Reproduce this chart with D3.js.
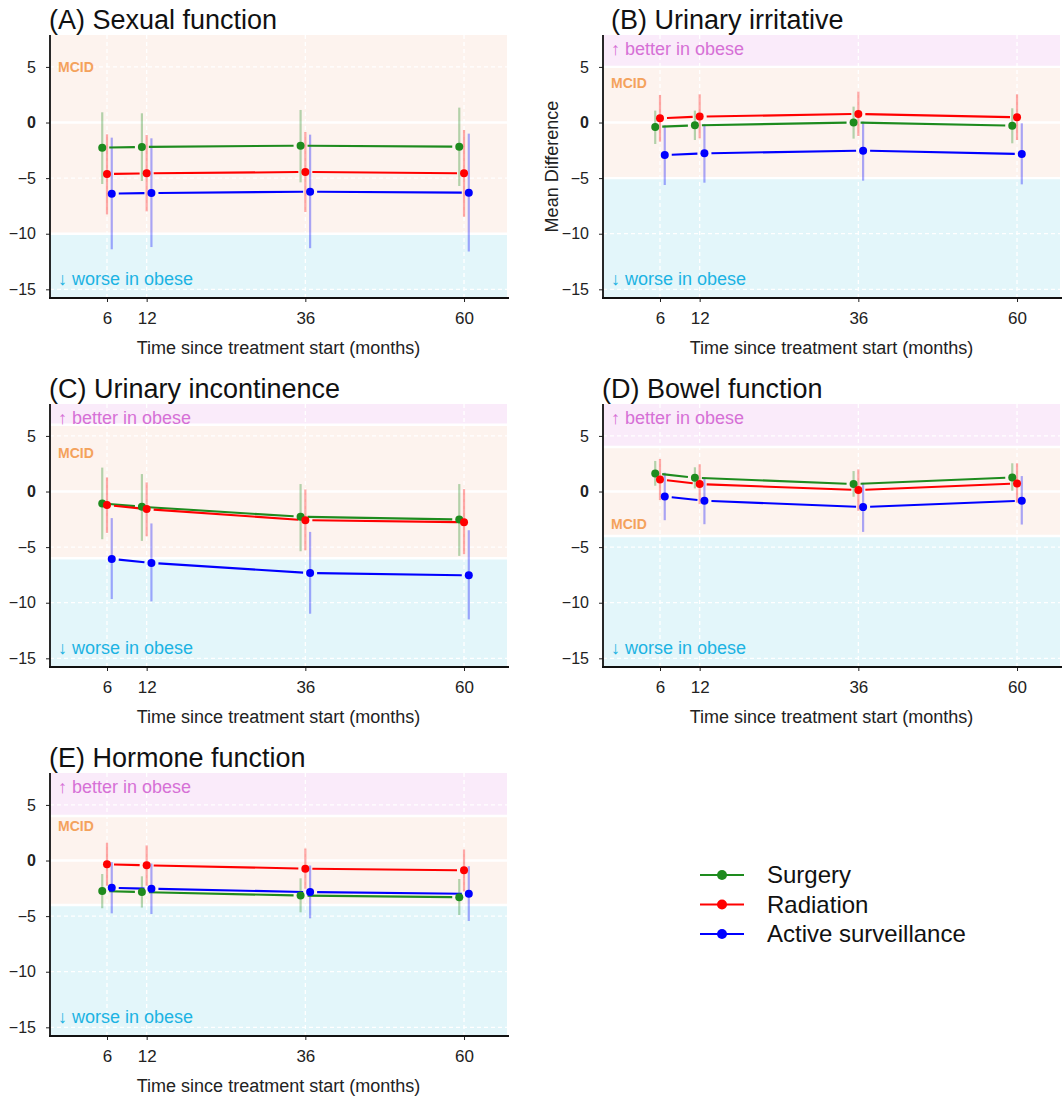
<!DOCTYPE html>
<html>
<head>
<meta charset="utf-8">
<script src="https://cdn.jsdelivr.net/npm/d3@7"></script>
<style>
  body { margin: 0; background: #fff; }
  svg { display: block; }
  text { font-family: "Liberation Sans", Arial, sans-serif; }
</style>
</head>
<body>
<svg id="chart" width="1062" height="1097"></svg>
<script>
// ---- data ----
const months = [6, 12, 36, 60];
const groups = ["Surgery", "Radiation", "Active surveillance"];
const yTicks = [5, 0, -5, -10, -15];
const titles = ["(A) Sexual function", "(B) Urinary irritative", "(C) Urinary incontinence",
                "(D) Bowel function", "(E) Hormone function"];
const mcid = [10, 5, 6, 4, 4];
const mcidLabelAt = [5, 3.55, 3.5, -2.9, 3.1];

// rows: Surgery, Radiation, Active surveillance; columns: months
const sexMean = [[-2.26, -2.20, -2.08, -2.17], [-4.63, -4.57, -4.45, -4.57], [-6.40, -6.34, -6.22, -6.31]];
const sexLow  = [[-5.53, -5.26, -5.38, -5.71], [-8.26, -7.99, -8.05, -8.47], [-11.4, -11.2, -11.3, -11.6]];
const sexHigh = [[0.92, 0.83, 1.13, 1.34], [-1.06, -1.12, -0.85, -0.67], [-1.36, -1.42, -1.09, -1.00]];

const irrMean = [[-0.40, -0.25, 0.00, -0.28], [0.38, 0.53, 0.77, 0.47], [-2.92, -2.77, -2.53, -2.83]];
const irrLow  = [[-1.93, -1.57, -1.45, -1.87], [-1.72, -1.42, -1.21, -1.57], [-5.62, -5.41, -5.23, -5.56]];
const irrHigh = [[1.07, 1.07, 1.43, 1.28], [2.48, 2.54, 2.78, 2.54], [-0.25, -0.13, 0.08, -0.07]];

const incMean = [[-1.07, -1.37, -2.27, -2.52], [-1.22, -1.58, -2.58, -2.76], [-6.06, -6.42, -7.33, -7.54]];
const incLow  = [[-4.29, -4.44, -5.37, -5.79], [-3.72, -4.02, -5.28, -5.64], [-9.67, -9.88, -10.99, -11.5]];
const incHigh = [[2.15, 1.57, 0.67, 0.67], [1.27, 0.82, 0.19, 0.22], [-2.39, -2.87, -3.63, -3.48]];

const bowMean = [[1.63, 1.24, 0.67, 1.27], [1.09, 0.67, 0.13, 0.73], [-0.44, -0.83, -1.40, -0.83]];
const bowLow  = [[0.52, 0.28, -0.47, 0.07], [-0.77, -1.13, -1.73, -1.01], [-2.58, -2.94, -3.63, -2.97]];
const bowHigh = [[2.75, 2.18, 1.84, 2.54], [2.93, 2.45, 1.99, 2.54], [1.69, 1.24, 0.79, 1.39]];

const horMean = [[-2.75, -2.84, -3.15, -3.30], [-0.34, -0.43, -0.73, -0.88], [-2.45, -2.54, -2.84, -2.99]];
const horLow  = [[-4.29, -4.23, -4.66, -4.90], [-2.27, -2.27, -2.54, -2.78], [-4.75, -4.81, -5.20, -5.44]];
const horHigh = [[-1.21, -1.42, -1.60, -1.66], [1.60, 1.36, 1.08, 0.99], [-0.15, -0.27, -0.45, -0.51]];

const means = [sexMean, irrMean, incMean, bowMean, horMean];
const lows = [sexLow, irrLow, incLow, bowLow, horLow];
const highs = [sexHigh, irrHigh, incHigh, bowHigh, horHigh];

// ---- layout ----
const colors = ["#1e8b1e", "#ff0000", "#0000ff"];
const dodge = [-0.72, 0, 0.72];
const pw = 457, ph = 263;
const origins = [[50, 35], [603, 35], [50, 404], [603, 404], [50, 773]];

const svg = d3.select("#chart");
svg.append("rect").attr("width", 1062).attr("height", 1097).attr("fill", "#fff");

const x = d3.scaleLinear().domain([-2.62, 66.5]).range([0, pw]);
const y = d3.scaleLinear().domain([-15.78, 7.87]).range([ph, 0]);

svg.append("defs").append("clipPath").attr("id", "plotclip")
    .append("rect").attr("width", pw).attr("height", ph);

origins.forEach(([ox, oy], p) => {
    let g = svg.append("g").attr("transform", `translate(${ox},${oy})`);
    let inner = g.append("g").attr("clip-path", "url(#plotclip)");
    let m = mcid[p];

    //bands: better / MCID / worse
    inner.append("rect")
        .attr("x", 0).attr("width", pw)
        .attr("y", 0).attr("height", Math.max(0, y(m)))
        .attr("fill", "#faebfa");
    inner.append("rect")
        .attr("x", 0).attr("width", pw)
        .attr("y", Math.max(0, y(m))).attr("height", y(-m) - Math.max(0, y(m)))
        .attr("fill", "#fdf3ee");
    inner.append("rect")
        .attr("x", 0).attr("width", pw)
        .attr("y", y(-m)).attr("height", ph - y(-m))
        .attr("fill", "#e3f6fa");

    //dashed grid
    inner.selectAll(".hg").data(yTicks.filter(d => d !== 0)).enter()
        .append("line")
        .attr("x1", 0).attr("x2", pw)
        .attr("y1", d => y(d)).attr("y2", d => y(d))
        .attr("stroke", "#fff").attr("stroke-width", 1.3)
        .attr("stroke-dasharray", "4,3");
    inner.selectAll(".vg").data(months).enter()
        .append("line")
        .attr("x1", d => x(d)).attr("x2", d => x(d))
        .attr("y1", 0).attr("y2", ph)
        .attr("stroke", "#fff").attr("stroke-width", 1.3)
        .attr("stroke-dasharray", "4,3");
    //solid white lines at 0 and band edges
    inner.selectAll(".wl").data([0, m, -m]).enter()
        .append("line")
        .attr("x1", 0).attr("x2", pw)
        .attr("y1", d => y(d)).attr("y2", d => y(d))
        .attr("stroke", "#fff").attr("stroke-width", 2.4);

    //band labels
    if (y(m) > 0) {
        g.append("text")
            .attr("x", 8).attr("y", 19.5)
            .attr("font-size", "18px").attr("fill", "#d670d6")
            .text("\u2191 better in obese");
    }
    g.append("text")
        .attr("x", 8).attr("y", ph - 13.5)
        .attr("font-size", "18px").attr("fill", "#1cb3e3")
        .text("\u2193 worse in obese");
    g.append("text")
        .attr("x", 8).attr("y", y(mcidLabelAt[p]))
        .attr("dy", "0.36em")
        .attr("font-size", "14px").attr("font-weight", "bold").attr("fill", "#f4a25c")
        .text("MCID");

    //error bars
    groups.forEach((grp, k) => {
        inner.selectAll(".eb" + k).data(months).enter()
            .append("line")
            .attr("x1", d => x(d + dodge[k])).attr("x2", d => x(d + dodge[k]))
            .attr("y1", (d, i) => y(lows[p][k][i])).attr("y2", (d, i) => y(highs[p][k][i]))
            .attr("stroke", colors[k]).attr("stroke-opacity", 0.33)
            .attr("stroke-width", 2.2);
    });

    //lines with small gaps around points
    groups.forEach((grp, k) => {
        let pts = months.map((d, i) => [x(d + dodge[k]), y(means[p][k][i])]);
        let segs = d3.pairs(pts).map(([a, b]) => {
            let dx = b[0] - a[0], dy = b[1] - a[1];
            let len = Math.hypot(dx, dy), gap = 7;
            return [a[0] + dx / len * gap, a[1] + dy / len * gap,
                    b[0] - dx / len * gap, b[1] - dy / len * gap];
        });
        inner.selectAll(".ln" + k).data(segs).enter()
            .append("line")
            .attr("x1", d => d[0]).attr("y1", d => d[1])
            .attr("x2", d => d[2]).attr("y2", d => d[3])
            .attr("stroke", colors[k]).attr("stroke-width", 2.1);
    });

    //points
    groups.forEach((grp, k) => {
        inner.selectAll(".pt" + k).data(months).enter()
            .append("circle")
            .attr("cx", d => x(d + dodge[k]))
            .attr("cy", (d, i) => y(means[p][k][i]))
            .attr("r", 4)
            .attr("fill", colors[k]);
    });

    //axes
    let yAxis = d3.axisLeft(y).tickValues(yTicks).tickSize(4).tickPadding(10);
    let ya = g.append("g").call(yAxis);
    ya.select(".domain").remove();
    ya.selectAll("text").attr("font-size", "16px").attr("fill", "#222")
        .attr("font-weight", d => d === 0 ? "bold" : "normal");
    ya.selectAll("line").attr("stroke", "#222");

    let xAxis = d3.axisBottom(x).tickValues(months).tickSize(4).tickPadding(10);
    let xa = g.append("g").attr("transform", `translate(0,${ph})`).call(xAxis);
    xa.select(".domain").remove();
    xa.selectAll("text").attr("font-size", "17px").attr("fill", "#222");
    xa.selectAll("line").attr("stroke", "#222");

    g.append("line").attr("x1", 0).attr("x2", 0).attr("y1", 0).attr("y2", ph + 1)
        .attr("stroke", "#111").attr("stroke-width", 1.8);
    g.append("line").attr("x1", -1).attr("x2", pw + 2).attr("y1", ph).attr("y2", ph)
        .attr("stroke", "#111").attr("stroke-width", 1.8);

    g.append("text")
        .attr("x", pw / 2).attr("y", ph + 56)
        .attr("text-anchor", "middle").attr("font-size", "18px").attr("fill", "#222")
        .text("Time since treatment start (months)");

    g.append("text")
        .attr("x", p === 1 ? 8 : -1).attr("y", -6)
        .attr("font-size", "27px").attr("fill", "#111")
        .text(titles[p]);

    if (p === 1) {
        g.append("text")
            .attr("transform", `translate(-45,${ph / 2}) rotate(-90)`)
            .attr("text-anchor", "middle").attr("font-size", "18px").attr("fill", "#222")
            .text("Mean Difference");
    }
});

//legend
let leg = svg.append("g").attr("transform", "translate(700,875)");
groups.forEach((grp, k) => {
    let row = leg.append("g").attr("transform", `translate(0,${k * 29.5})`);
    row.append("line").attr("x1", 0).attr("x2", 44).attr("y1", 0).attr("y2", 0)
        .attr("stroke", colors[k]).attr("stroke-width", 2.2);
    row.append("circle").attr("cx", 22).attr("cy", 0).attr("r", 5).attr("fill", colors[k]);
    row.append("text").attr("x", 67).attr("y", 0).attr("dy", "0.35em")
        .attr("font-size", "24px").attr("fill", "#111")
        .text(grp);
});
</script>
</body>
</html>
